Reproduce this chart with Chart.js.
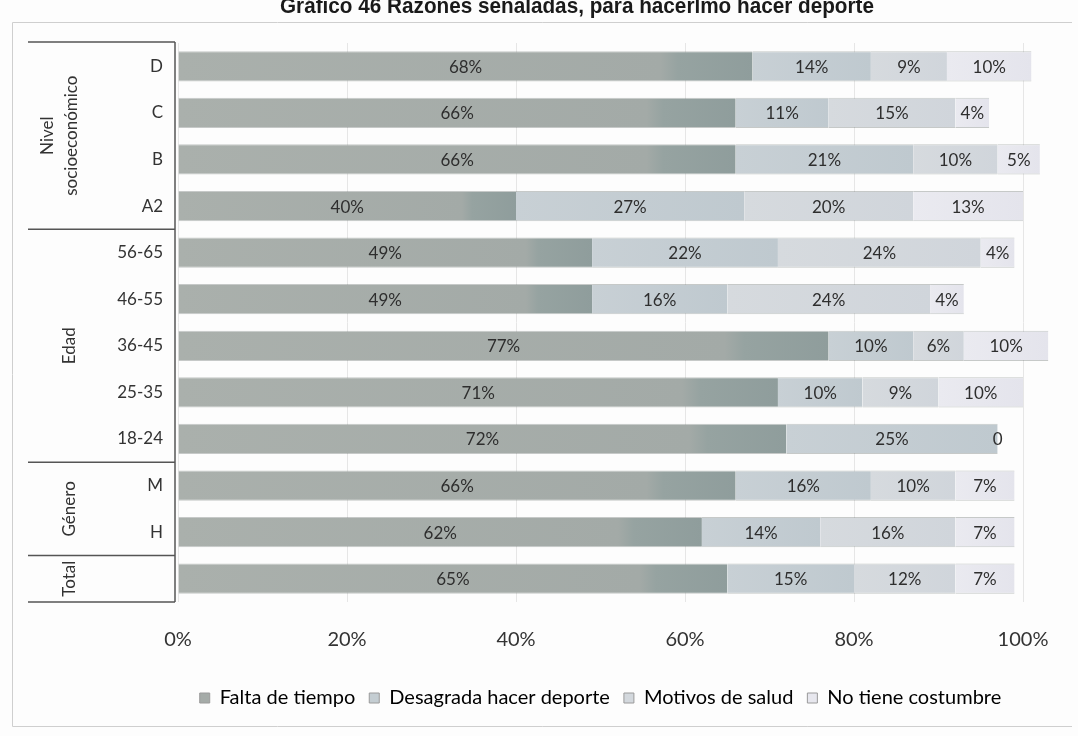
<!DOCTYPE html>
<html lang="es">
<head>
    <meta charset="UTF-8">
    <title>Razones señaladas para no hacer deporte</title>
    <script src="https://cdn.jsdelivr.net/npm/chart.js"></script>
    <style>
        html, body {
            margin: 0;
            padding: 0;
            background-color: #fdfdfd;
        }
        .chart-container {
            position: relative;
            width: 1078px;
            height: 736px;
        }
    </style>
</head>
<body>
    <div class="chart-container">
        <canvas id="deporteChart"></canvas>
    </div>

    <script>
        // Datos
        const titleText = 'Gráfico 46 Razones señaladas, para hacerlmo hacer deporte';
        const categories = ['D', 'C', 'B', 'A2', '56-65', '46-55', '36-45', '25-35', '18-24', 'M', 'H', ''];
        const seriesNames = ['Falta de tiempo', 'Desagrada hacer deporte', 'Motivos de salud', 'No tiene costumbre'];
        const faltaTiempo = [68, 66, 66, 40, 49, 49, 77, 71, 72, 66, 62, 65];
        const desagrada = [14, 11, 21, 27, 22, 16, 10, 10, 25, 16, 14, 15];
        const motivosSalud = [9, 15, 10, 20, 24, 24, 6, 9, null, 10, 16, 12];
        const noCostumbre = [10, 4, 5, 13, 4, 4, 10, 10, 0, 7, 7, 7];
        const xTicks = [0, 20, 40, 60, 80, 100];
        const groups = [
            { label: ['Nivel', 'socioeconómico'], start: 0, end: 3 },
            { label: ['Edad'], start: 4, end: 8 },
            { label: ['Género'], start: 9, end: 10 },
            { label: ['Total'], start: 11, end: 11 }
        ];

        const seriesValues = [faltaTiempo, desagrada, motivosSalud, noCostumbre];
        const baseColors = ['#a5aba8', '#c4cdd2', '#d3d8dd', '#e7e7ee'];
        const colorStops = [
            [['#aab0ac', 0], ['#a3aaa7', 0.84], ['#96a3a1', 0.87], ['#8f9d9c', 1]],
            [['#c8d0d5', 0], ['#bfc9cf', 1]],
            [['#d6dade', 0], ['#d0d5db', 1]],
            [['#eaeaf0', 0], ['#e4e4ec', 1]]
        ];
        const FONT = 'Lato, "Open Sans", sans-serif';

        // degradado por segmento, calculado con la escala x
        function shade(stops) {
            return (c) => {
                const chart = c.chart;
                if (!chart.chartArea || c.dataIndex === undefined || !chart.scales.x) return stops[0][0];
                const xs = chart.scales.x;
                let start = 0;
                for (let k = 0; k < c.datasetIndex; k++) start += seriesValues[k][c.dataIndex] || 0;
                const v = seriesValues[c.datasetIndex][c.dataIndex] || 0;
                const x0 = xs.getPixelForValue(start);
                const x1 = xs.getPixelForValue(start + v);
                if (x1 - x0 < 1) return stops[0][0];
                const g = chart.ctx.createLinearGradient(x0, 0, x1, 0);
                stops.forEach(([col, p]) => g.addColorStop(p, col));
                return g;
            };
        }

        // Título (cortado arriba como en el original) y marco
        const framePlugin = {
            id: 'framePlugin',
            beforeDraw(chart) {
                const ctx = chart.ctx;
                ctx.save();
                ctx.strokeStyle = '#cfcfcf';
                ctx.lineWidth = 1;
                ctx.beginPath();
                ctx.moveTo(1072, 22.5);
                ctx.lineTo(12.5, 22.5);
                ctx.lineTo(12.5, 726.5);
                ctx.lineTo(1072, 726.5);
                ctx.stroke();
                ctx.font = 'bold 22px "Liberation Sans", Arial, sans-serif';
                ctx.fillStyle = '#1a1a1a';
                ctx.textAlign = 'center';
                ctx.textBaseline = 'alphabetic';
                ctx.fillText(titleText, 577, 13, 594);
                ctx.restore();
            }
        };

        // Tabla de grupos a la izquierda
        const groupPlugin = {
            id: 'groupPlugin',
            afterDraw(chart) {
                const { ctx, chartArea, scales: { y } } = chart;
                const left = 28;
                const right = chartArea.left - 3;
                const edge = (i) => {
                    if (i < 0) return chartArea.top;
                    if (i >= categories.length - 1) return chartArea.bottom;
                    return (y.getPixelForValue(i) + y.getPixelForValue(i + 1)) / 2;
                };
                ctx.save();
                ctx.strokeStyle = '#555';
                ctx.lineWidth = 1.5;
                ctx.beginPath();
                ctx.moveTo(right, chartArea.top - 1);
                ctx.lineTo(right, chartArea.bottom);
                ctx.stroke();
                ctx.fillStyle = '#333';
                ctx.font = '17px ' + FONT;
                ctx.textAlign = 'center';
                ctx.textBaseline = 'middle';
                groups.forEach((g, gi) => {
                    const top = gi === 0 ? chartArea.top - 1 : edge(g.start - 1);
                    const bottom = edge(g.end);
                    ctx.beginPath();
                    ctx.moveTo(left, top);
                    ctx.lineTo(right, top);
                    ctx.stroke();
                    if (gi === groups.length - 1) {
                        ctx.beginPath();
                        ctx.moveTo(left, bottom);
                        ctx.lineTo(right, bottom);
                        ctx.stroke();
                    }
                    const n = g.label.length;
                    const cx = n > 1 ? 60 : 70;
                    const cy = (top + bottom) / 2;
                    ctx.save();
                    ctx.translate(cx, cy);
                    ctx.rotate(-Math.PI / 2);
                    g.label.forEach((t, li) => {
                        ctx.fillText(t, 0, (li - (n - 1) / 2) * 24);
                    });
                    ctx.restore();
                });
                ctx.restore();
            }
        };

        // Etiquetas de valor centradas en cada segmento
        const valueLabels = {
            id: 'valueLabels',
            afterDatasetsDraw(chart) {
                const ctx = chart.ctx;
                ctx.save();
                ctx.font = '17px ' + FONT;
                ctx.fillStyle = '#2e2e2e';
                ctx.textAlign = 'center';
                ctx.textBaseline = 'middle';
                chart.data.datasets.forEach((ds, di) => {
                    const meta = chart.getDatasetMeta(di);
                    meta.data.forEach((bar, i) => {
                        const v = ds.data[i];
                        if (v === null || v === undefined) return;
                        const text = v === 0 ? '0' : v + '%';
                        ctx.fillText(text, (bar.x + bar.base) / 2, bar.y + 1);
                    });
                });
                ctx.restore();
            }
        };

        const ctxDeporte = document.getElementById('deporteChart').getContext('2d');

        const deporteChart = new Chart(ctxDeporte, {
            type: 'bar',
            data: {
                labels: categories,
                datasets: seriesNames.map((name, i) => ({
                    label: name,
                    data: seriesValues[i],
                    backgroundColor: shade(colorStops[i]),
                    borderColor: 'rgba(95, 102, 99, 0.35)',
                    borderWidth: { top: 1, bottom: 1, left: 0, right: 0 },
                    borderSkipped: false,
                    categoryPercentage: 1,
                    barPercentage: 0.65,
                    clip: false
                }))
            },
            options: {
                indexAxis: 'y',
                responsive: true,
                maintainAspectRatio: false,
                animation: false,
                layout: {
                    padding: { top: 43, right: 55, bottom: 18, left: 0 }
                },
                scales: {
                    x: {
                        stacked: true,
                        min: 0,
                        max: 100,
                        afterBuildTicks: (s) => { s.ticks = xTicks.map(v => ({ value: v })); },
                        afterFit: (s) => { s.height = 72; },
                        grid: { color: '#e6e6e6', drawTicks: false },
                        border: { display: false },
                        ticks: {
                            padding: 26,
                            color: '#333',
                            font: { family: FONT, size: 20 },
                            callback: (v) => v + '%'
                        }
                    },
                    y: {
                        stacked: true,
                        afterFit: (s) => { s.width = 178; },
                        grid: { display: false, drawTicks: false },
                        border: { display: false },
                        ticks: {
                            padding: 15,
                            color: '#333',
                            font: { family: FONT, size: 17 }
                        }
                    }
                },
                plugins: {
                    legend: {
                        position: 'bottom',
                        fullSize: false,
                        labels: {
                            boxWidth: 10,
                            boxHeight: 10,
                            padding: 14,
                            color: '#333',
                            font: { family: FONT, size: 20 },
                            generateLabels: (chart) => seriesNames.map((name, i) => ({
                                text: name,
                                fillStyle: baseColors[i],
                                strokeStyle: '#9a9a9a',
                                lineWidth: 1,
                                datasetIndex: i,
                                hidden: false
                            }))
                        }
                    },
                    tooltip: { enabled: false }
                }
            },
            plugins: [framePlugin, groupPlugin, valueLabels]
        });
    </script>
</body>
</html>
